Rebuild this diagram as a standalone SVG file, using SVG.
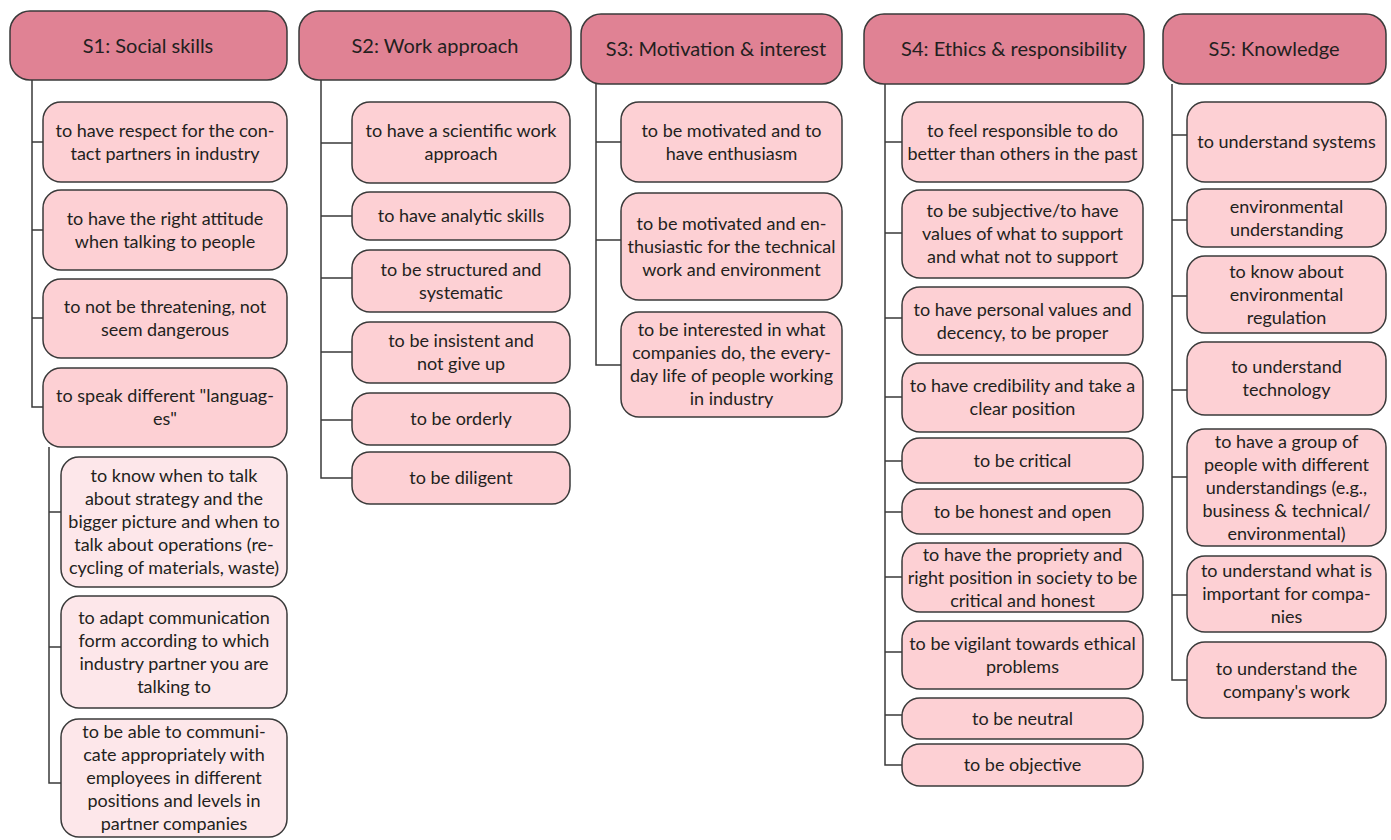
<svg xmlns="http://www.w3.org/2000/svg" width="1391" height="840" viewBox="0 0 1391 840">
<style>
.h{fill:#e08294;stroke:#3a3a3a;stroke-width:1.5}
.c{fill:#fdd0d4;stroke:#3a3a3a;stroke-width:1.5}
.s{fill:#fde7ea;stroke:#3a3a3a;stroke-width:1.5}
text{font-family:Lato,"Liberation Sans",sans-serif;fill:#231f20;text-anchor:middle}
.ht{font-size:20px}
.t{font-size:18px}
.k{fill:none;stroke:#3a3a3a;stroke-width:1.5}
</style>
<rect width="1391" height="840" fill="#fff"/>
<g id="connectors" class="k">
<path d="M32 80V407H43M32 142H43M32 230H43M32 318H43"/>
<path d="M49 447V783H61M49 512H61M49 647H61"/>
<path d="M321 80V478H352M321 143H352M321 216H352M321 278H352M321 352H352M321 420H352"/>
<path d="M596 84V365H621M596 142H621M596 240H621"/>
<path d="M885 84V765H902M885 142H902M885 233H902M885 318H902M885 397H902M885 461H902M885 512H902M885 577H902M885 652H902M885 715H902"/>
<path d="M1172 84V680H1187M1172 135H1187M1172 220H1187M1172 296H1187M1172 390H1187M1172 477H1187M1172 595H1187"/>
</g>
<g id="S1"><rect class="h" x="10" y="11" width="277" height="69" rx="20"/><text class="ht" x="148" y="53">S1: Social skills</text></g>
<g id="S2"><rect class="h" x="299" y="11" width="272" height="69" rx="20"/><text class="ht" x="435" y="53">S2: Work approach</text></g>
<g id="S3"><rect class="h" x="581" y="14" width="261" height="70" rx="20"/><text class="ht" x="716" y="56">S3: Motivation &amp; interest</text></g>
<g id="S4"><rect class="h" x="864" y="14" width="280" height="70" rx="20"/><text class="ht" x="1014" y="56">S4: Ethics &amp; responsibility</text></g>
<g id="S5"><rect class="h" x="1163" y="14" width="223" height="70" rx="20"/><text class="ht" x="1274" y="56">S5: Knowledge</text></g>

<g id="S1-1"><rect class="c" x="43" y="102" width="244" height="80" rx="18"/><text class="t" x="165" y="136.5">to have respect for the con-<tspan x="165" dy="23">tact partners in industry</tspan></text></g>
<g id="S1-2"><rect class="c" x="43" y="190" width="244" height="80" rx="18"/><text class="t" x="165" y="224.5">to have the right attitude<tspan x="165" dy="23">when talking to people</tspan></text></g>
<g id="S1-3"><rect class="c" x="43" y="279" width="244" height="79" rx="18"/><text class="t" x="165" y="313">to not be threatening, not<tspan x="165" dy="23">seem dangerous</tspan></text></g>
<g id="S1-4"><rect class="c" x="43" y="368" width="244" height="79" rx="18"/><text class="t" x="165" y="402">to speak different "languag-<tspan x="165" dy="23">es"</tspan></text></g>
<g id="S1-4a"><rect class="s" x="61" y="457" width="226" height="130" rx="18"/><text class="t" x="174" y="482">to know when to talk<tspan x="174" dy="23">about strategy and the</tspan><tspan x="174" dy="23">bigger picture and when to</tspan><tspan x="174" dy="23">talk about operations (re-</tspan><tspan x="174" dy="23">cycling of materials, waste)</tspan></text></g>
<g id="S1-4b"><rect class="s" x="61" y="596" width="226" height="112" rx="18"/><text class="t" x="174" y="623.5">to adapt communication<tspan x="174" dy="23">form according to which</tspan><tspan x="174" dy="23">industry partner you are</tspan><tspan x="174" dy="23">talking to</tspan></text></g>
<g id="S1-4c"><rect class="s" x="61" y="719" width="226" height="118" rx="18"/><text class="t" x="174" y="738">to be able to communi-<tspan x="174" dy="23">cate appropriately with</tspan><tspan x="174" dy="23">employees in different</tspan><tspan x="174" dy="23">positions and levels in</tspan><tspan x="174" dy="23">partner companies</tspan></text></g>

<g id="S2-1"><rect class="c" x="352" y="102" width="218" height="81" rx="18"/><text class="t" x="461" y="137">to have a scientific work<tspan x="461" dy="23">approach</tspan></text></g>
<g id="S2-2"><rect class="c" x="352" y="192" width="218" height="48" rx="18"/><text class="t" x="461" y="222">to have analytic skills</text></g>
<g id="S2-3"><rect class="c" x="352" y="250" width="218" height="62" rx="18"/><text class="t" x="461" y="275.5">to be structured and<tspan x="461" dy="23">systematic</tspan></text></g>
<g id="S2-4"><rect class="c" x="352" y="322" width="218" height="61" rx="18"/><text class="t" x="461" y="347">to be insistent and<tspan x="461" dy="23">not give up</tspan></text></g>
<g id="S2-5"><rect class="c" x="352" y="393" width="218" height="52" rx="18"/><text class="t" x="461" y="425">to be orderly</text></g>
<g id="S2-6"><rect class="c" x="352" y="452" width="218" height="52" rx="18"/><text class="t" x="461" y="484">to be diligent</text></g>

<g id="S3-1"><rect class="c" x="621" y="102" width="221" height="80" rx="18"/><text class="t" x="731.5" y="136.5">to be motivated and to<tspan x="731.5" dy="23">have enthusiasm</tspan></text></g>
<g id="S3-2"><rect class="c" x="621" y="193" width="221" height="107" rx="18"/><text class="t" x="731.5" y="229.5">to be motivated and en-<tspan x="731.5" dy="23">thusiastic for the technical</tspan><tspan x="731.5" dy="23">work and environment</tspan></text></g>
<g id="S3-3"><rect class="c" x="621" y="312" width="221" height="105" rx="18"/><text class="t" x="731.5" y="336">to be interested in what<tspan x="731.5" dy="23">companies do, the every-</tspan><tspan x="731.5" dy="23">day life of people working</tspan><tspan x="731.5" dy="23">in industry</tspan></text></g>

<g id="S4-1"><rect class="c" x="902" y="102" width="241" height="80" rx="18"/><text class="t" x="1022.5" y="136.5">to feel responsible to do<tspan x="1022.5" dy="23">better than others in the past</tspan></text></g>
<g id="S4-2"><rect class="c" x="902" y="190" width="241" height="88" rx="18"/><text class="t" x="1022.5" y="217">to be subjective/to have<tspan x="1022.5" dy="23">values of what to support</tspan><tspan x="1022.5" dy="23">and what not to support</tspan></text></g>
<g id="S4-3"><rect class="c" x="902" y="287" width="241" height="68" rx="18"/><text class="t" x="1022.5" y="315.5">to have personal values and<tspan x="1022.5" dy="23">decency, to be proper</tspan></text></g>
<g id="S4-4"><rect class="c" x="902" y="363" width="241" height="69" rx="18"/><text class="t" x="1022.5" y="392">to have credibility and take a<tspan x="1022.5" dy="23">clear position</tspan></text></g>
<g id="S4-5"><rect class="c" x="902" y="438" width="241" height="45" rx="18"/><text class="t" x="1022.5" y="466.5">to be critical</text></g>
<g id="S4-6"><rect class="c" x="902" y="489" width="241" height="45" rx="18"/><text class="t" x="1022.5" y="517.5">to be honest and open</text></g>
<g id="S4-7"><rect class="c" x="902" y="543" width="241" height="69" rx="18"/><text class="t" x="1022.5" y="560.5">to have the propriety and<tspan x="1022.5" dy="23">right position in society to be</tspan><tspan x="1022.5" dy="23">critical and honest</tspan></text></g>
<g id="S4-8"><rect class="c" x="902" y="621" width="241" height="68" rx="18"/><text class="t" x="1022.5" y="649.5">to be vigilant towards ethical<tspan x="1022.5" dy="23">problems</tspan></text></g>
<g id="S4-9"><rect class="c" x="902" y="698" width="241" height="41" rx="18"/><text class="t" x="1022.5" y="724.5">to be neutral</text></g>
<g id="S4-10"><rect class="c" x="902" y="744" width="241" height="42" rx="18"/><text class="t" x="1022.5" y="771">to be objective</text></g>

<g id="S5-1"><rect class="c" x="1187" y="102" width="199" height="80" rx="18"/><text class="t" x="1286.5" y="148">to understand systems</text></g>
<g id="S5-2"><rect class="c" x="1187" y="189" width="199" height="58" rx="18"/><text class="t" x="1286.5" y="212.5">environmental<tspan x="1286.5" dy="23">understanding</tspan></text></g>
<g id="S5-3"><rect class="c" x="1187" y="256" width="199" height="77" rx="18"/><text class="t" x="1286.5" y="277.5">to know about<tspan x="1286.5" dy="23">environmental</tspan><tspan x="1286.5" dy="23">regulation</tspan></text></g>
<g id="S5-4"><rect class="c" x="1187" y="342" width="199" height="73" rx="18"/><text class="t" x="1286.5" y="373">to understand<tspan x="1286.5" dy="23">technology</tspan></text></g>
<g id="S5-5"><rect class="c" x="1187" y="429" width="199" height="117" rx="18"/><text class="t" x="1286.5" y="447.5">to have a group of<tspan x="1286.5" dy="23">people with different</tspan><tspan x="1286.5" dy="23">understandings (e.g.,</tspan><tspan x="1286.5" dy="23">business &amp; technical/</tspan><tspan x="1286.5" dy="23">environmental)</tspan></text></g>
<g id="S5-6"><rect class="c" x="1187" y="556" width="199" height="76" rx="18"/><text class="t" x="1286.5" y="577">to understand what is<tspan x="1286.5" dy="23">important for compa-</tspan><tspan x="1286.5" dy="23">nies</tspan></text></g>
<g id="S5-7"><rect class="c" x="1187" y="642" width="199" height="76" rx="18"/><text class="t" x="1286.5" y="674.5">to understand the<tspan x="1286.5" dy="23">company's work</tspan></text></g>
</svg>
